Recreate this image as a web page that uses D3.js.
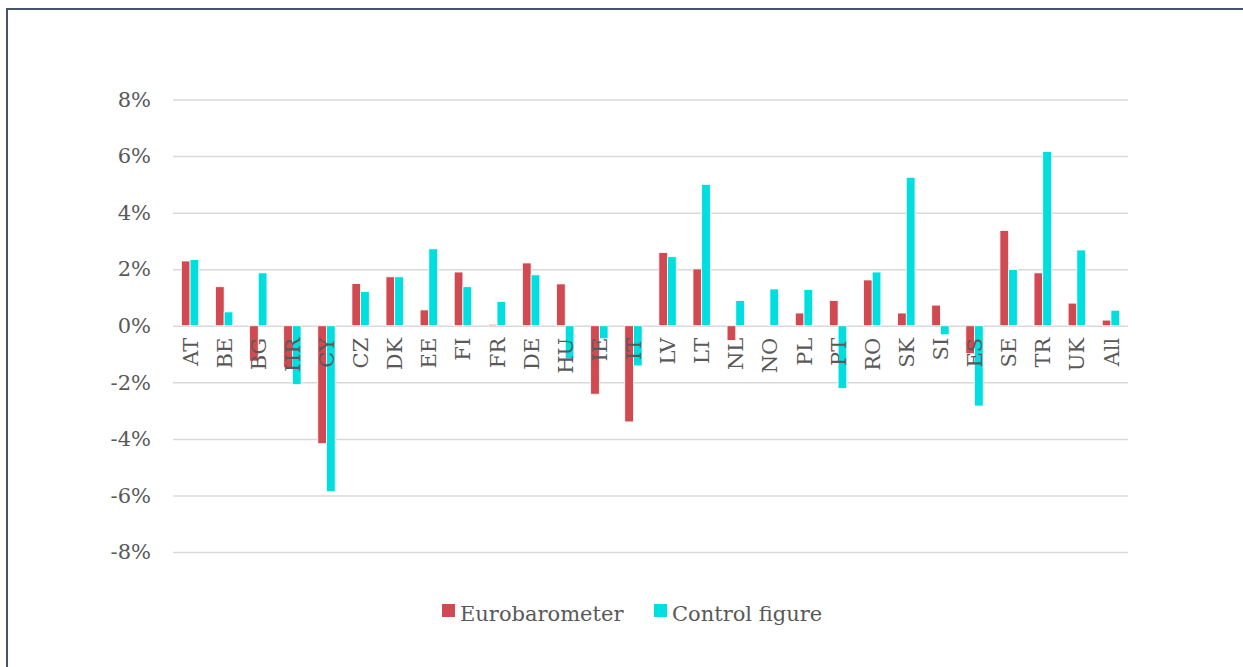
<!DOCTYPE html>
<html>
<head>
<meta charset="utf-8">
<script src="https://cdn.jsdelivr.net/npm/d3@7"></script>
<style>
  html, body { margin: 0; padding: 0; background: #fff; }
  svg { display: block; }
  text { font-family: "DejaVu Serif", Georgia, serif; fill: #595959; }
</style>
</head>
<body>
<svg id="chart" width="1243" height="667"></svg>
<script>
// Country codes along the x axis
const countries = ["AT","BE","BG","HR","CY","CZ","DK","EE","FI","FR","DE","HU","IE","IT",
                   "LV","LT","NL","NO","PL","PT","RO","SK","SI","ES","SE","TR","UK","All"];
// Series values, in percent
const eurobarometer = [2.29, 1.38, -1.25, -1.48, -4.17, 1.49, 1.73, 0.56, 1.90, 0.05, 2.22, 1.48, -2.42, -3.40,
                       2.59, 2.01, -0.52, 0.00, 0.45, 0.89, 1.62, 0.45, 0.73, -0.99, 3.37, 1.87, 0.80, 0.20];
const controlFigure = [2.34, 0.49, 1.87, -2.08, -5.87, 1.21, 1.73, 2.72, 1.38, 0.86, 1.80, -1.17, -0.46, -1.42,
                       2.44, 5.00, 0.89, 1.30, 1.28, -2.22, 1.90, 5.25, -0.32, -2.84, 1.99, 6.16, 2.68, 0.55];
const yTicks = [-8, -6, -4, -2, 0, 2, 4, 6, 8];
const seriesNames = ["Eurobarometer", "Control figure"];
const seriesColors = ["#d14a51", "#00dfe0"];

const svg = d3.select("#chart");

// Outer frame (left and top edges)
svg.append("path")
  .attr("d", "M7,700 L7,9 L1250,9")
  .attr("fill", "none")
  .attr("stroke", "#44546a")
  .attr("stroke-width", 2);

const plot = { left: 173, right: 1128, top: 99.5, bottom: 552 };

const x = d3.scaleBand()
  .domain(countries)
  .range([plot.left, plot.right])
  .paddingInner(0.49)
  .paddingOuter(0.245);

const xSub = d3.scaleBand()
  .domain([0, 1])
  .range([0, x.bandwidth()]);

const y = d3.scaleLinear()
  .domain([-8, 8])
  .range([plot.bottom, plot.top]);

// Gridlines and y tick labels
const yAxis = d3.axisLeft(y)
  .tickValues(yTicks)
  .tickSize(-(plot.right - plot.left))
  .tickPadding(22)
  .tickFormat(d => d + "%");

const gy = svg.append("g")
  .attr("transform", `translate(${plot.left},0)`)
  .call(yAxis);
gy.select(".domain").remove();
gy.selectAll(".tick line")
  .attr("stroke", "#d9d9d9")
  .attr("stroke-width", 1.5);
gy.selectAll(".tick text")
  .attr("fill", "#595959")
  .style("font-size", "21px")
  .style("font-family", "'DejaVu Serif', Georgia, serif");

// Bars
const rows = countries.map((c, i) => ({ c, vals: [eurobarometer[i], controlFigure[i]] }));

const groups = svg.append("g").selectAll("g")
  .data(rows)
  .join("g")
  .attr("transform", d => `translate(${x(d.c)},0)`);

groups.selectAll("rect")
  .data(d => d.vals.map((v, k) => ({ v, k })))
  .join("rect")
  .attr("x", d => xSub(d.k))
  .attr("width", xSub.bandwidth())
  .attr("y", d => y(Math.max(0, d.v)))
  .attr("height", d => Math.abs(y(d.v) - y(0)))
  .attr("fill", d => seriesColors[d.k])
  .attr("stroke", "#ffffff")
  .attr("stroke-width", 0.8);

// Category labels, rotated, hanging below the zero line
svg.append("g").selectAll("text")
  .data(countries)
  .join("text")
  .attr("transform", d => `translate(${x(d) + x.bandwidth() / 2},${y(0) + 12}) rotate(-90)`)
  .attr("text-anchor", "end")
  .attr("dy", "0.36em")
  .style("font-size", "21px")
  .text(d => d);

// Legend
const legendItems = [
  { name: seriesNames[0], color: seriesColors[0], x: 442 },
  { name: seriesNames[1], color: seriesColors[1], x: 654 }
];
const legend = svg.append("g").selectAll("g")
  .data(legendItems)
  .join("g")
  .attr("transform", d => `translate(${d.x},604)`);
legend.append("rect")
  .attr("width", 13)
  .attr("height", 13)
  .attr("fill", d => d.color);
legend.append("text")
  .attr("x", 18)
  .attr("y", 17)
  .style("font-size", "21px")
  .text(d => d.name);
</script>
</body>
</html>
